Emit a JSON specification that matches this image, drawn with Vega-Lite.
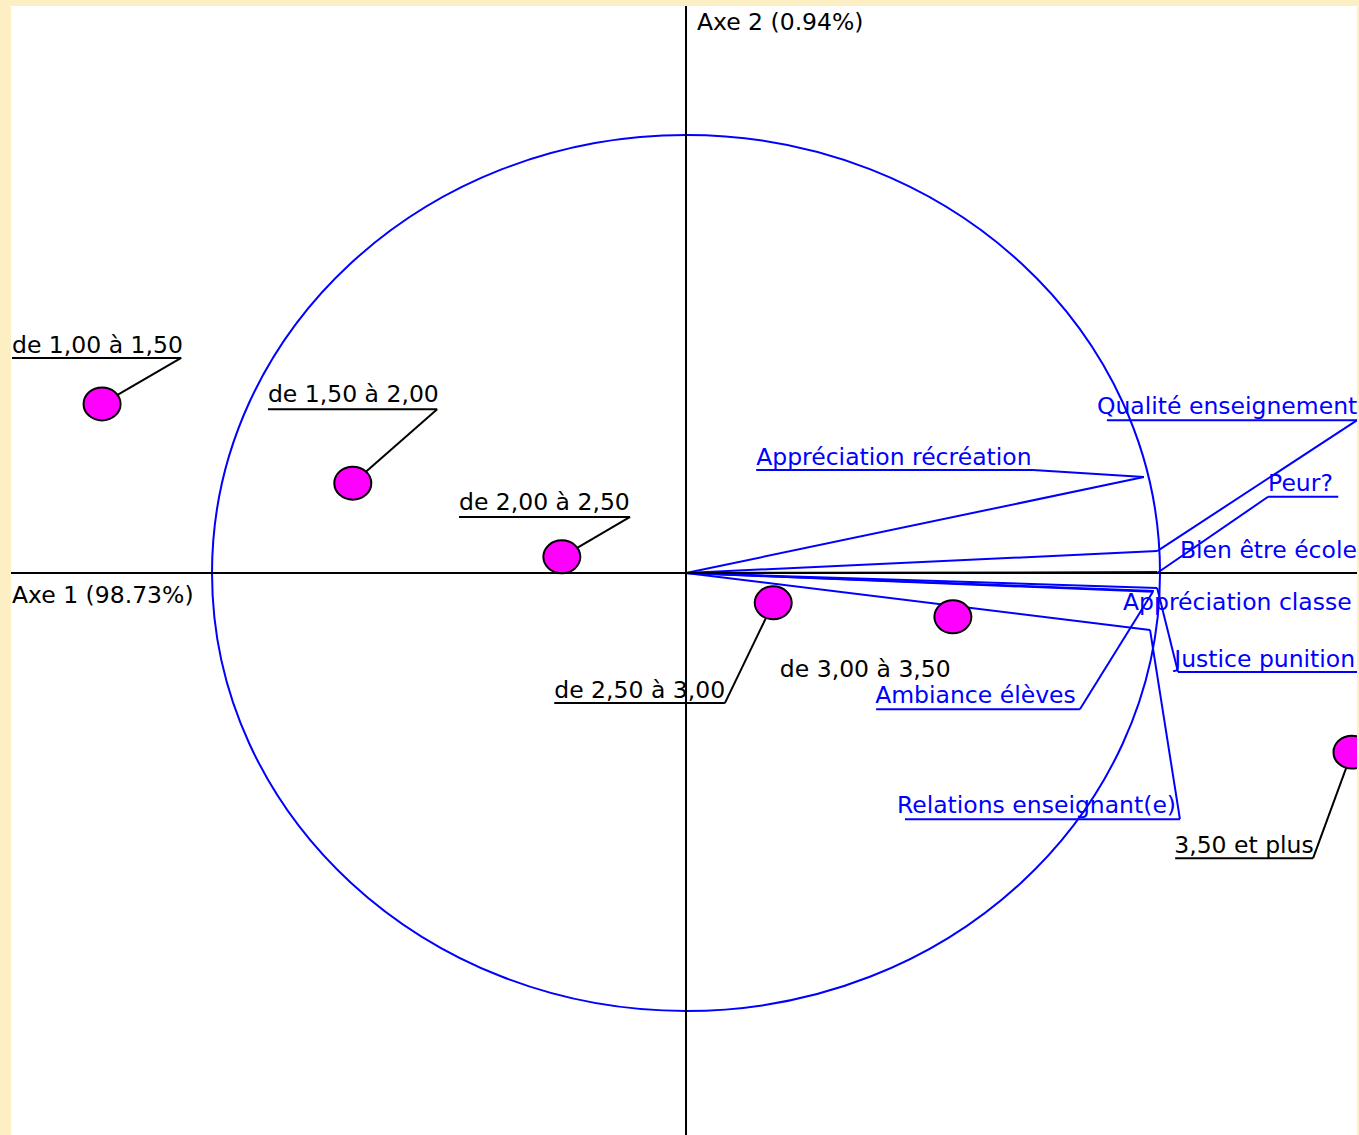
{
  "$schema": "https://vega.github.io/schema/vega-lite/v6.json",
  "width": 1346,
  "height": 1129,
  "autosize": {"type": "none"},
  "padding": {"left": 11, "top": 6, "right": 2, "bottom": 0},
  "background": "#FBEFC3",
  "view": {"stroke": null, "fill": "#FFFFFF"},
  "config": {"text": {"font": "DejaVu Sans", "fontSize": 23.5}},
  "datasets": {
    "axes": [
      {"name": "Axe 1 (98.73%)", "tx": -1.422, "ty": -0.068},
      {"name": "Axe 2 (0.94%)", "tx": 0.023, "ty": 1.24}
    ],
    "origin": [{"v": 0}],
    "variables": [
      {"name": "Appréciation récréation", "x0": 0, "y0": 0, "x": 0.966, "y": 0.219, "tx": 0.148, "ty": 0.247, "ux1": 0.148, "ux2": 0.732, "uy": 0.235, "lx": 0.732, "ly": 0.235},
      {"name": "Qualité enseignement", "x0": 0, "y0": 0, "x": 0.994, "y": 0.05, "tx": 0.867, "ty": 0.363, "ux1": 0.888, "ux2": 1.416, "uy": 0.349, "lx": 1.416, "ly": 0.349},
      {"name": "Peur?", "x0": 0, "y0": 0, "x": 0.994, "y": 0.0, "tx": 1.228, "ty": 0.187, "ux1": 1.228, "ux2": 1.376, "uy": 0.174, "lx": 1.228, "ly": 0.174},
      {"name": "Bien être école", "x0": 0, "y0": 0, "x": 0.994, "y": 0.002, "tx": 1.042, "ty": 0.034},
      {"name": "Appréciation classe", "x0": 0, "y0": 0, "x": 0.987, "y": -0.041, "tx": 0.922, "ty": -0.084},
      {"name": "Justice punition", "x0": 0, "y0": 0, "x": 0.994, "y": -0.034, "tx": 1.03, "ty": -0.215, "ux1": 1.038, "ux2": 1.416, "uy": -0.226, "lx": 1.038, "ly": -0.226},
      {"name": "Ambiance élèves", "x0": 0, "y0": 0, "x": 0.985, "y": -0.043, "tx": 0.399, "ty": -0.297, "ux1": 0.401, "ux2": 0.831, "uy": -0.311, "lx": 0.831, "ly": -0.311},
      {"name": "Relations enseignant(e)", "x0": 0, "y0": 0, "x": 0.979, "y": -0.13, "tx": 0.445, "ty": -0.548, "ux1": 0.462, "ux2": 1.042, "uy": -0.562, "lx": 1.042, "ly": -0.562}
    ],
    "categories": [
      {"name": "de 1,00 à 1,50", "x": -1.232, "y": 0.386, "tx": -1.422, "ty": 0.502, "ux1": -1.422, "ux2": -1.065, "uy": 0.491},
      {"name": "de 1,50 à 2,00", "x": -0.703, "y": 0.205, "tx": -0.882, "ty": 0.39, "ux1": -0.882, "ux2": -0.525, "uy": 0.374},
      {"name": "de 2,00 à 2,50", "x": -0.262, "y": 0.037, "tx": -0.479, "ty": 0.144, "ux1": -0.479, "ux2": -0.118, "uy": 0.128},
      {"name": "de 2,50 à 3,00", "x": 0.184, "y": -0.068, "tx": -0.278, "ty": -0.285, "ux1": -0.278, "ux2": 0.082, "uy": -0.297},
      {"name": "de 3,00 à 3,50", "x": 0.563, "y": -0.1, "tx": 0.198, "ty": -0.237},
      {"name": "3,50 et plus", "x": 1.405, "y": -0.409, "tx": 1.03, "ty": -0.639, "ux1": 1.032, "ux2": 1.323, "uy": -0.651}
    ]
  },
  "layer": [
    {
      "data": {"name": "origin"},
      "mark": {"type": "point", "shape": "M 1 0 C 1 0.5103 0.5523 0.924 0 0.924 C -0.5523 0.924 -1 0.5103 -1 0 C -1 -0.5103 -0.5523 -0.924 0 -0.924 C 0.5523 -0.924 1 -0.5103 1 0 Z", "size": 898704, "filled": false, "stroke": "#0000FF", "strokeWidth": 2, "opacity": 1},
      "encoding": {
        "x": {"field": "v", "type": "quantitative", "scale": {"domain": [-1.4241, 1.4156], "nice": false, "zero": false}, "axis": null},
        "y": {"field": "v", "type": "quantitative", "scale": {"domain": [-1.2831, 1.2945], "nice": false, "zero": false}, "axis": null}
      }
    },
    {
      "data": {"name": "variables"},
      "mark": {"type": "rule", "color": "#0000FF", "strokeWidth": 2, "clip": true},
      "encoding": {
        "x": {"field": "x0", "type": "quantitative", "scale": {"domain": [-1.4241, 1.4156], "nice": false, "zero": false}, "axis": null},
        "y": {"field": "y0", "type": "quantitative", "scale": {"domain": [-1.2831, 1.2945], "nice": false, "zero": false}, "axis": null},
        "x2": {"field": "x"},
        "y2": {"field": "y"}
      }
    },
    {
      "data": {"name": "origin"},
      "mark": {"type": "rule", "color": "#000000", "strokeWidth": 2},
      "encoding": {
        "y": {"field": "v", "type": "quantitative", "scale": {"domain": [-1.2831, 1.2945], "nice": false, "zero": false}, "axis": null}
      }
    },
    {
      "data": {"name": "origin"},
      "mark": {"type": "rule", "color": "#000000", "strokeWidth": 2},
      "encoding": {
        "x": {"field": "v", "type": "quantitative", "scale": {"domain": [-1.4241, 1.4156], "nice": false, "zero": false}, "axis": null}
      }
    },
    {
      "data": {"name": "variables"},
      "transform": [{"filter": "isValid(datum.lx)"}],
      "mark": {"type": "rule", "color": "#0000FF", "strokeWidth": 2, "clip": true},
      "encoding": {
        "x": {"field": "lx", "type": "quantitative", "scale": {"domain": [-1.4241, 1.4156], "nice": false, "zero": false}, "axis": null},
        "y": {"field": "ly", "type": "quantitative", "scale": {"domain": [-1.2831, 1.2945], "nice": false, "zero": false}, "axis": null},
        "x2": {"field": "x"},
        "y2": {"field": "y"}
      }
    },
    {
      "data": {"name": "variables"},
      "transform": [{"filter": "isValid(datum.ux1)"}],
      "mark": {"type": "rule", "color": "#0000FF", "strokeWidth": 2, "clip": true},
      "encoding": {
        "x": {"field": "ux1", "type": "quantitative", "scale": {"domain": [-1.4241, 1.4156], "nice": false, "zero": false}, "axis": null},
        "x2": {"field": "ux2"},
        "y": {"field": "uy", "type": "quantitative", "scale": {"domain": [-1.2831, 1.2945], "nice": false, "zero": false}, "axis": null}
      }
    },
    {
      "data": {"name": "variables"},
      "mark": {"type": "text", "color": "#0000FF", "align": "left", "baseline": "alphabetic", "clip": true},
      "encoding": {
        "x": {"field": "tx", "type": "quantitative", "scale": {"domain": [-1.4241, 1.4156], "nice": false, "zero": false}, "axis": null},
        "y": {"field": "ty", "type": "quantitative", "scale": {"domain": [-1.2831, 1.2945], "nice": false, "zero": false}, "axis": null},
        "text": {"field": "name", "type": "nominal"}
      }
    },
    {
      "data": {"name": "categories"},
      "transform": [{"filter": "isValid(datum.ux1)"}],
      "mark": {"type": "rule", "color": "#000000", "strokeWidth": 2, "clip": true},
      "encoding": {
        "x": {"field": "ux2", "type": "quantitative", "scale": {"domain": [-1.4241, 1.4156], "nice": false, "zero": false}, "axis": null},
        "y": {"field": "uy", "type": "quantitative", "scale": {"domain": [-1.2831, 1.2945], "nice": false, "zero": false}, "axis": null},
        "x2": {"field": "x"},
        "y2": {"field": "y"}
      }
    },
    {
      "data": {"name": "categories"},
      "transform": [{"filter": "isValid(datum.ux1)"}],
      "mark": {"type": "rule", "color": "#000000", "strokeWidth": 2, "clip": true},
      "encoding": {
        "x": {"field": "ux1", "type": "quantitative", "scale": {"domain": [-1.4241, 1.4156], "nice": false, "zero": false}, "axis": null},
        "x2": {"field": "ux2"},
        "y": {"field": "uy", "type": "quantitative", "scale": {"domain": [-1.2831, 1.2945], "nice": false, "zero": false}, "axis": null}
      }
    },
    {
      "data": {"name": "categories"},
      "mark": {"type": "text", "color": "#000000", "align": "left", "baseline": "alphabetic", "clip": true},
      "encoding": {
        "x": {"field": "tx", "type": "quantitative", "scale": {"domain": [-1.4241, 1.4156], "nice": false, "zero": false}, "axis": null},
        "y": {"field": "ty", "type": "quantitative", "scale": {"domain": [-1.2831, 1.2945], "nice": false, "zero": false}, "axis": null},
        "text": {"field": "name", "type": "nominal"}
      }
    },
    {
      "data": {"name": "categories"},
      "mark": {"type": "point", "shape": "M 1 0 C 1 0.4915 0.5523 0.89 0 0.89 C -0.5523 0.89 -1 0.4915 -1 0 C -1 -0.4915 -0.5523 -0.89 0 -0.89 C 0.5523 -0.89 1 -0.4915 1 0 Z", "size": 1369, "filled": true, "fill": "#FF00FF", "stroke": "#000000", "strokeWidth": 2, "opacity": 1, "clip": true},
      "encoding": {
        "x": {"field": "x", "type": "quantitative", "scale": {"domain": [-1.4241, 1.4156], "nice": false, "zero": false}, "axis": null},
        "y": {"field": "y", "type": "quantitative", "scale": {"domain": [-1.2831, 1.2945], "nice": false, "zero": false}, "axis": null}
      }
    },
    {
      "data": {"name": "axes"},
      "mark": {"type": "text", "color": "#000000", "align": "left", "baseline": "alphabetic"},
      "encoding": {
        "x": {"field": "tx", "type": "quantitative", "scale": {"domain": [-1.4241, 1.4156], "nice": false, "zero": false}, "axis": null},
        "y": {"field": "ty", "type": "quantitative", "scale": {"domain": [-1.2831, 1.2945], "nice": false, "zero": false}, "axis": null},
        "text": {"field": "name", "type": "nominal"}
      }
    }
  ]
}
